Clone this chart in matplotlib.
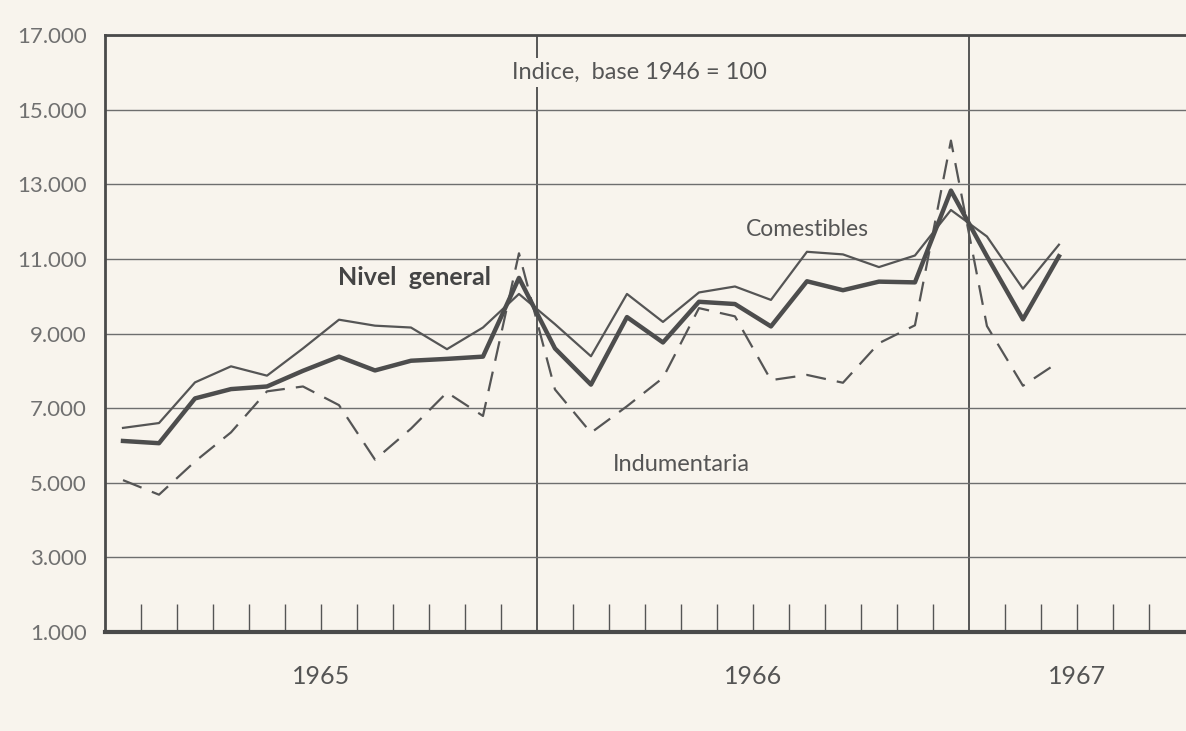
import matplotlib.pyplot as plt
import numpy as np

# Datos mensuales (enero 1965 - marzo 1967), indice base 1946 = 100
nivel_general = [6120, 6060, 7260, 7510, 7580, 8000, 8380, 8010, 8270, 8320, 8380, 10490,
                 8600, 7630, 9440, 8760, 9850, 9790, 9190, 10400, 10160, 10390, 10370, 12830,
                 11070, 9380, 11070]
comestibles = [6470, 6600, 7690, 8120, 7870, 8600, 9370, 9210, 9160, 8580, 9160, 10060,
               9250, 8390, 10060, 9310, 10100, 10260, 9900, 11190, 11120, 10780, 11090, 12310,
               11600, 10200, 11380]
indumentaria = [5070, 4680, 5570, 6350, 7450, 7580, 7080, 5620, 6450, 7420, 6790, 11150,
                7500, 6340, 7050, 7810, 9680, 9460, 7750, 7890, 7680, 8740, 9220, 14170,
                9200, 7600, 8240]
anios = ['1965', '1966', '1967']
y_ticks = [1000, 3000, 5000, 7000, 9000, 11000, 13000, 15000, 17000]

fondo = '#f8f4ed'
tinta = '#4a4a4a'
plt.rcParams['font.family'] = ['Lato', 'DejaVu Sans']

# posicion de cada mes (centro del mes)
x = np.arange(len(nivel_general)) + 0.5
x_max = 30.03

fig = plt.figure(figsize=(11.86, 7.31), dpi=100, facecolor=fondo)
ax = fig.add_axes([105 / 1186, 1 - 632 / 731, 1 - 105 / 1186, (632 - 35) / 731])
ax.set_facecolor(fondo)
ax.set_xlim(0, x_max)
ax.set_ylim(1000, 17000)

# grilla horizontal
ax.set_yticks(y_ticks)
ax.set_yticklabels([f'{v:,.0f}'.replace(',', '.') for v in y_ticks])
ax.yaxis.grid(True, color='#6e6e6e', linewidth=1.0)
ax.tick_params(axis='y', length=0, pad=13, labelsize=16, labelcolor='#707070')

# marcas de meses hacia adentro
meses = [m for m in range(1, 30) if m % 12 != 0]
ax.set_xticks(meses)
ax.set_xticklabels([])
ax.tick_params(axis='x', direction='in', length=20, width=1.0, color='#555555')

# separadores de anios
for m in (12, 24):
    ax.axvline(m, color=tinta, linewidth=1.3, zorder=1)

ax.spines['right'].set_visible(False)
ax.spines['left'].set_linewidth(2)
ax.spines['left'].set_color(tinta)
ax.spines['top'].set_linewidth(2)
ax.spines['top'].set_color(tinta)
ax.spines['bottom'].set_linewidth(3)
ax.spines['bottom'].set_color(tinta)

# series
ax.plot(x, comestibles, color='#555555', linewidth=1.6, zorder=3)
ax.plot(x, indumentaria, color='#555555', linewidth=1.6, dashes=(9, 5), zorder=3)
ax.plot(x, nivel_general, color='#4d4d4d', linewidth=3.2, zorder=4)

# etiquetas
ax.text(8.6, 10500, 'Nivel  general', fontsize=18, fontweight='bold', color='#444444',
        ha='center', va='center')
ax.text(19.5, 11800, 'Comestibles', fontsize=16.5, color='#555555', ha='center', va='center')
ax.text(16.0, 5500, 'Indumentaria', fontsize=17, color='#555555', ha='center', va='center')
ax.text(11.3, 16000, 'Indice,  base 1946 = 100', fontsize=17, color='#555555',
        ha='left', va='center', zorder=5,
        bbox=dict(facecolor=fondo, edgecolor='none', pad=3))

# anios debajo del eje
for i, anio in enumerate(anios):
    inicio = 12 * i
    centro = (inicio + min(inicio + 12, x_max)) / 2
    ax.text(centro, -0.075, anio, transform=ax.get_xaxis_transform(), fontsize=18,
            color='#555555', ha='center', va='center')

plt.savefig('out.png', dpi=100, facecolor=fondo)
